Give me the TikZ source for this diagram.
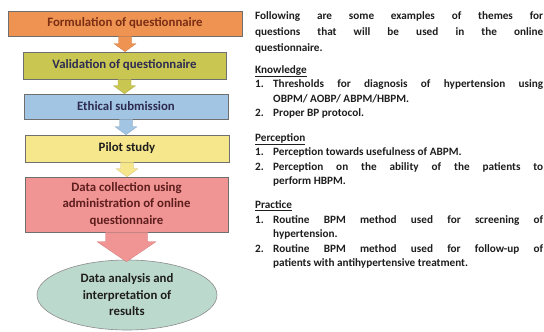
\documentclass[tikz,border=0pt]{standalone}
\usepackage{fontspec}
\setmainfont{Carlito}
\usetikzlibrary{calc,shapes.geometric}

\tolerance=9999
\hbadness=10000
\setlength{\parskip}{0pt}

% stage fills and lettering
\definecolor{stageA}{HTML}{EF9352}
\definecolor{stageB}{HTML}{C9C651}
\definecolor{stageC}{HTML}{A2C5E3}
\definecolor{stageD}{HTML}{F6E78C}
\definecolor{stageE}{HTML}{F19494}
\definecolor{stageF}{HTML}{BCD9CE}
\definecolor{inkA}{HTML}{7A2E14}
\definecolor{inkB}{HTML}{2E2C52}
\definecolor{inkE}{HTML}{5E1E1E}
\definecolor{inkN}{HTML}{1E1E1E}
\definecolor{edge}{HTML}{6F6F6F}

% block arrow running from one stage to the next:
% #1 start point, #2 tip point, #3 colour, #4 shaft half-width, #5 head half-width, #6 head length
\newcommand\flowarrow[6]{%
  \path[fill=#3, draw=#3!85!black, line width=0.3pt]
    let \p1=#1, \p2=#2 in
    (\x1-#4,\y1) -- (\x1+#4,\y1) -- (\x1+#4,\y2+#6) -- (\x1+#5,\y2+#6)
    -- (\x1,\y2) -- (\x1-#5,\y2+#6) -- (\x1-#4,\y2+#6) -- cycle;}

% numbered entry with a hanging label
\newcommand\numitem[2]{\hangindent=18pt\hangafter=1\makebox[18pt][l]{#1}#2\par}

\begin{document}
\begin{tikzpicture}[x=1pt,y=-1pt,
  stagebox/.style={rectangle, draw=edge, line width=0.6pt, inner sep=0pt,
    align=center, font=\bfseries\fontsize{12.8}{16.5}\selectfont},
  notes/.style={anchor=north west, inner sep=0pt, text width=288pt,
    align=justify, text=inkN, font=\bfseries\fontsize{11.2}{14.5}\selectfont},
  ]
\useasboundingbox (0,0) rectangle (544,332);
\fill[white] (0,0) rectangle (544,332);

% process stages
\node[stagebox, fill=stageA, text=inkA, minimum width=234pt, minimum height=25pt]
  (s1) at (125,23.5) {Formulation of questionnaire};
\node[stagebox, fill=stageB, text=inkB, minimum width=203pt, minimum height=27pt]
  (s2) at (124.5,65.5) {Validation of questionnaire};
\node[stagebox, fill=stageC, text=inkB, minimum width=204pt, minimum height=25pt]
  (s3) at (126,106.5) {Ethical submission};
\node[stagebox, fill=stageD, text=inkN, minimum width=204pt, minimum height=27pt]
  (s4) at (127,148.5) {Pilot study};
\node[stagebox, fill=stageE, text=inkE, minimum width=203pt, minimum height=55pt]
  (s5) at (126.5,204.5) {Data collection using\\administration of online\\questionnaire};
\node[stagebox, ellipse, draw=edge!80, fill=stageF, text=inkN,
  minimum width=180pt, minimum height=70pt]
  (s6) at (127,295) {Data analysis and\\interpretation of\\results};

% arrows between stages
\coordinate (t6) at ($(s6.north)+(0,2)$);
\flowarrow{(s1.south)}{(s2.north)}{stageA}{6.5pt}{11pt}{8pt}
\flowarrow{(s2.south)}{(s3.north)}{stageB}{6.5pt}{11pt}{8pt}
\flowarrow{(s3.south)}{(s4.north)}{stageC}{6.5pt}{11pt}{8pt}
\flowarrow{(s4.south)}{(s5.north)}{stageD}{6.5pt}{11pt}{8pt}
\flowarrow{(s5.south)}{(t6)}{stageE}{21pt}{29.5pt}{20pt}

% themes for the questionnaire
\node[notes, font=\bfseries\fontsize{11.2}{16}\selectfont] (intro) at (255,11)
  {Following are some examples of themes for\linebreak
   questions that will be used in the online\linebreak
   questionnaire.\par};

\node[notes] (know) at (255,65)
  {\underline{Knowledge}\par
   \numitem{1.}{Thresholds for diagnosis of hypertension using\linebreak
   OBPM/ AOBP/ ABPM/HBPM.}
   \numitem{2.}{Proper BP protocol.}};

\node[notes] (perc) at (255,133)
  {\underline{Perception}\par
   \numitem{1.}{Perception towards usefulness of ABPM.}
   \numitem{2.}{Perception on the ability of the patients to\linebreak
   perform HBPM.}};

\node[notes] (prac) at (255,200.5)
  {\underline{Practice}\par
   \numitem{1.}{Routine BPM method used for screening of\linebreak
   hypertension.}
   \numitem{2.}{Routine BPM method used for follow-up of\linebreak
   patients with antihypertensive treatment.}};
\end{tikzpicture}
\end{document}
